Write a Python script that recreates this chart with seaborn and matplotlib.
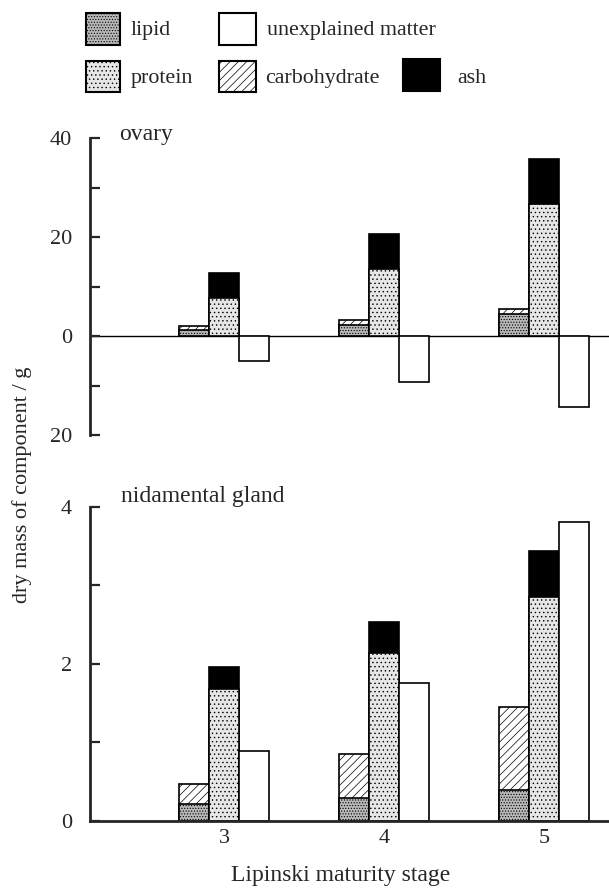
import seaborn as sns
import matplotlib.pyplot as plt
from matplotlib.patches import Rectangle

# Lipinski maturity stages
stages = [3, 4, 5]

# ovary, dry mass of component / g
ovary_lipid = [1.2, 2.3, 4.4]
ovary_carbohydrate = [0.8, 1.0, 1.0]
ovary_protein = [7.7, 13.6, 26.8]
ovary_ash = [5.1, 7.1, 9.0]
ovary_unexplained = [-5.1, -9.2, -14.4]

# nidamental gland, dry mass of component / g
gland_lipid = [0.21, 0.29, 0.39]
gland_carbohydrate = [0.26, 0.56, 1.06]
gland_protein = [1.68, 2.13, 2.85]
gland_ash = [0.28, 0.40, 0.59]
gland_unexplained = [0.89, 1.76, 3.81]

W_PX, H_PX = 609, 889
BAR_W = 0.1875

STYLES = {
    "lipid": dict(color="#b8b8b8", hatch="......"),
    "protein": dict(color="#e6e6e6", hatch="...."),
    "carbohydrate": dict(color="white", hatch="////"),
    "ash": dict(color="black", hatch=None),
    "unexplained matter": dict(color="white", hatch=None),
}

sns.set_theme(style="ticks")
plt.rcParams["font.family"] = ["Liberation Serif", "DejaVu Serif"]
plt.rcParams["hatch.linewidth"] = 0.5


def fx(px):
    return px / W_PX


def fy(py):
    return 1 - py / H_PX


def add_axes(fig, left, top, right, bottom):
    return fig.add_axes([fx(left), fy(bottom), (right - left) / W_PX, (bottom - top) / H_PX])


def bars(ax, offset, heights, kind):
    st = STYLES[kind]
    sns.barplot(x=[s + offset for s in stages], y=heights, orient="x", native_scale=True,
                width=BAR_W, color=st["color"], hatch=st["hatch"], edgecolor="black",
                linewidth=1.2, saturation=1, errorbar=None, ax=ax)


def panel(ax, lipid, carb, protein, ash, unexplained):
    # stacked: draw the totals first, lower component over them
    bars(ax, -BAR_W, [a + b for a, b in zip(lipid, carb)], "carbohydrate")
    bars(ax, -BAR_W, lipid, "lipid")
    bars(ax, 0, [a + b for a, b in zip(protein, ash)], "ash")
    bars(ax, 0, protein, "protein")
    bars(ax, BAR_W, unexplained, "unexplained matter")
    ax.set_xlim(2.1625, 5.406)
    ax.set_xlabel("")
    ax.set_ylabel("")
    for s in ["top", "right"]:
        ax.spines[s].set_visible(False)
    ax.spines["left"].set_linewidth(2)
    ax.tick_params(axis="y", which="both", direction="in", length=7, width=1.6,
                   pad=13, labelsize=16)


fig = plt.figure(figsize=(W_PX / 100, H_PX / 100), dpi=100)

ax1 = add_axes(fig, 90, 138.3, 609, 435)
ax1.axhline(0, color="black", lw=1, zorder=0.5)
panel(ax1, ovary_lipid, ovary_carbohydrate, ovary_protein, ovary_ash, ovary_unexplained)
ax1.set_ylim(-20, 40)
ax1.set_yticks([-20, 0, 20, 40], ["20", "0", "20", "40"])
ax1.set_yticks([-10, 10, 30], minor=True)
ax1.set_xticks([])
ax1.spines["bottom"].set_visible(False)

ax2 = add_axes(fig, 90, 506.7, 609, 820.7)
panel(ax2, gland_lipid, gland_carbohydrate, gland_protein, gland_ash, gland_unexplained)
ax2.set_ylim(0, 4)
ax2.set_yticks([0, 2, 4], ["0", "2", "4"])
ax2.set_yticks([1, 3], minor=True)
ax2.set_xticks(stages, [str(s) for s in stages])
ax2.spines["bottom"].set_linewidth(2)
ax2.tick_params(axis="x", length=0, pad=6, labelsize=16)

fig.text(fx(119), fy(140), "ovary", fontsize=17, va="baseline")
fig.text(fx(121), fy(501.7), "nidamental gland", fontsize=17, va="baseline")
fig.text(fx(341), fy(881), "Lipinski maturity stage", fontsize=17, ha="center", va="baseline")
fig.text(fx(22), fy(485), "dry mass of component / g", fontsize=16, rotation=90,
         ha="center", va="center")

# legend, drawn by hand to keep the two-row layout of the original
legend = [
    ("lipid", 86, 13, 120, 45, 131, 34.5),
    ("unexplained matter", 219, 13, 256, 45, 267, 34.5),
    ("protein", 86, 61, 120, 92, 131, 83.3),
    ("carbohydrate", 219, 61, 256, 92, 265, 83.3),
    ("ash", 403, 59, 440, 91, 457, 83),
]
for name, l, t, r, b, tx, ty in legend:
    st = STYLES[name]
    fig.add_artist(Rectangle((fx(l), fy(b)), (r - l) / W_PX, (b - t) / H_PX,
                             transform=fig.transFigure, facecolor=st["color"],
                             hatch=st["hatch"], edgecolor="black", lw=1.5))
    fig.text(fx(tx), fy(ty), name, fontsize=15.8, va="baseline")

fig.savefig("out.png", dpi=100)
